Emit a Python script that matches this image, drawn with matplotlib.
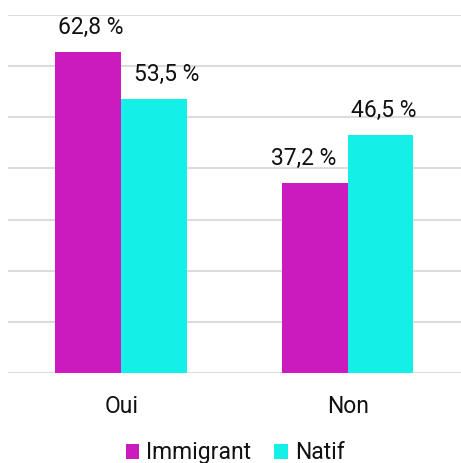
import numpy as np
import matplotlib.pyplot as plt

categories = ["Oui", "Non"]
immigrant = [62.8, 37.2]
natif = [53.5, 46.5]

c_imm = "#CB1BBF"
c_nat = "#14F0E8"

# small horizontal nudges of the value labels (points), as in the original
nudge_imm = [2, -8]
nudge_nat = [9, 2]

plt.rcParams['font.family'] = ['Roboto', 'DejaVu Sans']

fig = plt.figure(figsize=(4.61, 4.63), dpi=100)
ax = fig.add_axes([0.017, 0.194, 0.983, 0.774])

x = np.arange(len(categories))
w = 0.29
b1 = ax.bar(x - w/2, immigrant, w, color=c_imm, label="Immigrant", zorder=3)
b2 = ax.bar(x + w/2, natif, w, color=c_nat, label="Natif", zorder=3)

for bars, vals, nud in [(b1, immigrant, nudge_imm), (b2, natif, nudge_nat)]:
    for r, v, dx in zip(bars, vals, nud):
        ax.annotate(f"{v:.1f} %".replace(".", ","),
                    (r.get_x() + r.get_width()/2, v), xytext=(dx, 13),
                    textcoords="offset points", ha="center", va="baseline",
                    fontsize=16.5, color="#111111")

ax.set_xlim(-0.5, 1.5)
ax.set_ylim(0, 70)
ax.set_yticks(np.arange(0, 71, 10))
ax.yaxis.grid(True, color="#dcdcdc", linewidth=1.5, zorder=0)
ax.set_yticklabels([])
ax.tick_params(axis="y", length=0)
ax.tick_params(axis="x", length=0, pad=16, labelsize=16.5, labelcolor="#111111")
ax.set_xticks(x)
ax.set_xticklabels(categories)
for s in ax.spines.values():
    s.set_visible(False)

fig.legend(loc="center", bbox_to_anchor=(0.51, 0.022), ncol=2, frameon=False,
           fontsize=16.5, handlelength=0.6, handleheight=0.6, handletextpad=0.3,
           columnspacing=1.0, borderaxespad=0, labelcolor="#111111")

fig.savefig("out.png", dpi=100)
